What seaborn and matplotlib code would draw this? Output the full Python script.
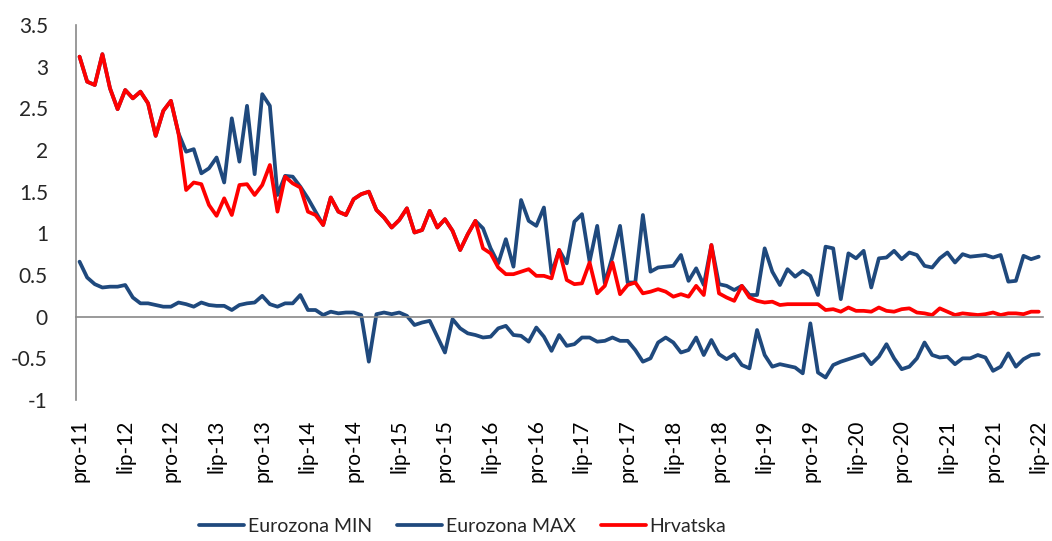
import numpy as np
import pandas as pd
import seaborn as sns
import matplotlib.pyplot as plt
from matplotlib.ticker import FixedLocator, FuncFormatter

# monthly data, pro-11 (Dec 2011) .. lip-22 (Jun 2022)
months = pd.date_range('2011-12-01', '2022-06-01', freq='MS')
tick_labels = ['pro-11', 'lip-12', 'pro-12', 'lip-13', 'pro-13', 'lip-14', 'pro-14',
               'lip-15', 'pro-15', 'lip-16', 'pro-16', 'lip-17', 'pro-17', 'lip-18',
               'pro-18', 'lip-19', 'pro-19', 'lip-20', 'pro-20', 'lip-21', 'pro-21', 'lip-22']

hrvatska = [3.12, 2.82, 2.78, 3.15, 2.74, 2.49, 2.72, 2.62, 2.70, 2.56, 2.17, 2.47, 2.59,
            2.20, 1.52, 1.61, 1.59, 1.34, 1.21, 1.42, 1.22, 1.58, 1.59, 1.46, 1.58, 1.82,
            1.26, 1.68, 1.60, 1.55, 1.26, 1.22, 1.10, 1.43, 1.26, 1.22, 1.41, 1.47, 1.50,
            1.28, 1.19, 1.07, 1.16, 1.30, 1.01, 1.04, 1.27, 1.07, 1.17, 1.03, 0.80, 0.99,
            1.15, 0.82, 0.76, 0.59, 0.51, 0.51, 0.54, 0.57, 0.49, 0.49, 0.46, 0.80, 0.44,
            0.39, 0.40, 0.65, 0.28, 0.37, 0.65, 0.27, 0.38, 0.41, 0.28, 0.30, 0.33, 0.30,
            0.24, 0.27, 0.24, 0.37, 0.26, 0.86, 0.28, 0.23, 0.19, 0.37, 0.23, 0.19, 0.17,
            0.18, 0.14, 0.15, 0.15, 0.15, 0.15, 0.15, 0.08, 0.09, 0.06, 0.11, 0.07, 0.07,
            0.06, 0.11, 0.07, 0.06, 0.09, 0.10, 0.05, 0.04, 0.02, 0.10, 0.06, 0.02, 0.04,
            0.03, 0.02, 0.03, 0.05, 0.02, 0.04, 0.04, 0.03, 0.06, 0.06]

ez_max = [3.12, 2.82, 2.78, 3.15, 2.74, 2.49, 2.72, 2.62, 2.70, 2.56, 2.17, 2.47, 2.59,
          2.20, 1.98, 2.01, 1.72, 1.78, 1.91, 1.61, 2.38, 1.86, 2.53, 1.71, 2.67, 2.53,
          1.46, 1.69, 1.68, 1.56, 1.42, 1.26, 1.10, 1.43, 1.26, 1.22, 1.41, 1.47, 1.50,
          1.28, 1.19, 1.07, 1.16, 1.30, 1.01, 1.04, 1.27, 1.07, 1.17, 1.03, 0.80, 0.99,
          1.15, 1.06, 0.82, 0.64, 0.93, 0.60, 1.40, 1.15, 1.09, 1.31, 0.52, 0.80, 0.64,
          1.14, 1.23, 0.66, 1.09, 0.40, 0.72, 1.09, 0.41, 0.41, 1.22, 0.54, 0.59, 0.60,
          0.61, 0.74, 0.43, 0.58, 0.38, 0.86, 0.39, 0.37, 0.32, 0.37, 0.26, 0.26, 0.82,
          0.54, 0.38, 0.57, 0.48, 0.55, 0.49, 0.26, 0.84, 0.82, 0.21, 0.76, 0.70, 0.79,
          0.35, 0.70, 0.71, 0.79, 0.69, 0.77, 0.74, 0.61, 0.59, 0.70, 0.77, 0.65, 0.75,
          0.72, 0.73, 0.74, 0.71, 0.74, 0.42, 0.43, 0.73, 0.69, 0.72]

ez_min = [0.66, 0.47, 0.39, 0.35, 0.36, 0.36, 0.38, 0.23, 0.16, 0.16, 0.14, 0.12, 0.12,
          0.17, 0.15, 0.12, 0.17, 0.14, 0.13, 0.13, 0.08, 0.14, 0.16, 0.17, 0.25, 0.15,
          0.12, 0.16, 0.16, 0.26, 0.08, 0.08, 0.02, 0.06, 0.04, 0.05, 0.05, 0.02, -0.54,
          0.03, 0.05, 0.03, 0.05, 0.01, -0.10, -0.07, -0.05, -0.24, -0.43, -0.03, -0.14,
          -0.20, -0.22, -0.25, -0.24, -0.14, -0.11, -0.22, -0.23, -0.30, -0.13, -0.24,
          -0.41, -0.22, -0.35, -0.33, -0.25, -0.25, -0.30, -0.29, -0.25, -0.29, -0.29,
          -0.40, -0.54, -0.50, -0.31, -0.25, -0.31, -0.43, -0.40, -0.25, -0.46, -0.28,
          -0.45, -0.51, -0.45, -0.58, -0.62, -0.16, -0.46, -0.60, -0.57, -0.59, -0.61,
          -0.68, -0.08, -0.67, -0.73, -0.58, -0.54, -0.51, -0.48, -0.45, -0.57, -0.48,
          -0.33, -0.50, -0.63, -0.60, -0.50, -0.31, -0.46, -0.49, -0.48, -0.57, -0.50,
          -0.50, -0.46, -0.49, -0.65, -0.60, -0.44, -0.60, -0.51, -0.46, -0.45]

series_names = ['Eurozona MIN', 'Eurozona MAX', 'Hrvatska']
colors = {'Eurozona MIN': '#1f497d', 'Eurozona MAX': '#1f497d', 'Hrvatska': '#ff0000'}

idx = np.arange(len(months))
df = pd.DataFrame({'idx': idx, 'Eurozona MIN': ez_min, 'Eurozona MAX': ez_max, 'Hrvatska': hrvatska})
long_df = df.melt(id_vars='idx', var_name='serija', value_name='vrijednost')

sns.set_style('white')
plt.rcParams['font.family'] = ['Lato', 'DejaVu Sans']

fig = plt.figure(figsize=(10.52, 5.41), dpi=100)
ax = fig.add_axes([0.072, 0.2606, 0.919, 0.6932])

sns.lineplot(data=long_df, x='idx', y='vrijednost', hue='serija', hue_order=series_names,
             palette=colors, linewidth=2.7, ax=ax, solid_joinstyle='round', solid_capstyle='round')

axis_col = '#898989'
fsize = 15
ax.set_xlim(-0.5, len(months) - 0.5)
ax.set_ylim(-1, 3.5)
ax.set_yticks(np.arange(-1, 3.51, 0.5))
ax.yaxis.set_major_formatter(FuncFormatter(lambda v, p: f'{v:g}'))

# category labels every 6 months, tick marks on category boundaries
ax.set_xticks(idx[::6])
ax.set_xticklabels(tick_labels)
ax.xaxis.set_minor_locator(FixedLocator(np.arange(-0.5, len(months), 6)))
ax.spines['bottom'].set_position(('data', 0))
ax.tick_params(axis='x', which='major', length=0, pad=74, labelsize=fsize,
               labelrotation=90, colors='black')
ax.tick_params(axis='x', which='minor', length=5, width=1.2, color=axis_col, direction='out')
ax.tick_params(axis='y', length=5, width=1.2, color=axis_col, labelsize=fsize, pad=15)
for s in ['top', 'right']:
    ax.spines[s].set_visible(False)
for s in ['left', 'bottom']:
    ax.spines[s].set_color(axis_col)
    ax.spines[s].set_linewidth(1.2)
ax.set_xlabel('')
ax.set_ylabel('')

handles, labels = ax.get_legend_handles_labels()
ax.get_legend().remove()
fig.legend(handles, labels, loc='center', bbox_to_anchor=(0.44, 0.027), ncol=3, frameon=False,
           fontsize=14, handlelength=2.3, handletextpad=0.2, columnspacing=1.3)

fig.savefig('out.png', dpi=100)
